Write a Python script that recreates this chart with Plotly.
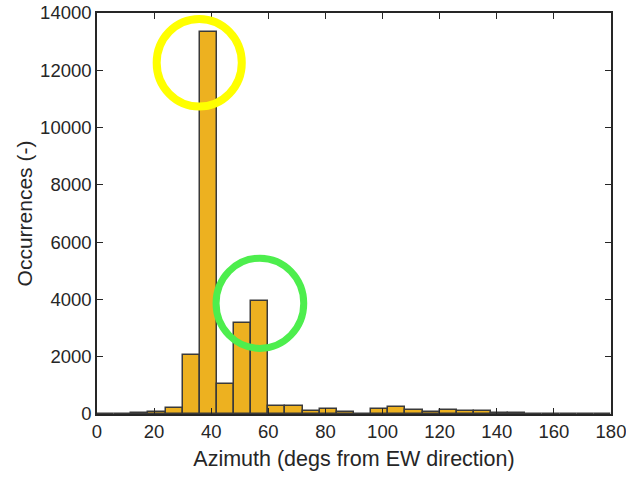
import plotly.graph_objects as go

# Histogram bins (6-degree bins from 0 to 180) - bin centers
bin_centers = [3, 9, 15, 21, 27, 33, 39, 45, 51, 57, 63, 69, 75, 81, 87,
               93, 99, 105, 111, 117, 123, 129, 135, 141, 147, 153, 159, 165, 171, 177]
bin_width = 6
counts = [0, 5, 20, 55, 200, 2050, 13320, 1060, 3160, 3930, 280, 280, 100, 170, 70,
          10, 170, 240, 140, 70, 130, 90, 120, 50, 25, 15, 15, 5, 15, 0]

x_ticks = [0, 20, 40, 60, 80, 100, 120, 140, 160, 180]
x_tick_labels = ["0", "20", "40", "60", "80", "100", "120", "140", "160", "180"]
y_ticks = [0, 2000, 4000, 6000, 8000, 10000, 12000, 14000]
y_tick_labels = ["0", "2000", "4000", "6000", "8000", "10000", "12000", "14000"]

FONT = "Liberation Sans, Arial, sans-serif"
TXT = "#262626"

fig = go.Figure()
fig.add_trace(go.Bar(
    x=bin_centers, y=counts, width=[bin_width] * len(bin_centers),
    marker=dict(color="#EDB120", line=dict(color="#3a3a3a", width=1.5)),
    showlegend=False,
))

# highlight circles
fig.add_shape(type="circle", xref="x", yref="y",
              x0=20.9, x1=50.7, y0=10733, y1=13791,
              line=dict(color="#FFFF00", width=8))
fig.add_shape(type="circle", xref="x", yref="y",
              x0=41.7, x1=72.4, y0=2291, y1=5440,
              line=dict(color="#4DEE4D", width=7))

axis_common = dict(
    showline=True, linecolor="#262626", linewidth=1.5, mirror="ticks",
    ticks="inside", ticklen=6, tickwidth=1.2, tickcolor="#262626",
    showgrid=False, zeroline=False, automargin=False,
    ticklabeloverflow="allow",
    tickfont=dict(family=FONT, size=18.5, color=TXT),
)

fig.update_xaxes(range=[0, 180], tickvals=x_ticks, ticktext=x_tick_labels,
                 title=dict(text="Azimuth (degs from EW direction)",
                            font=dict(family=FONT, size=21.5, color=TXT), standoff=10),
                 **axis_common)
fig.update_yaxes(range=[0, 14000], tickvals=y_ticks, ticktext=y_tick_labels,
                 title=dict(text="Occurrences (-)",
                            font=dict(family=FONT, size=21, color=TXT), standoff=2),
                 **axis_common)

fig.update_layout(
    width=626, height=478,
    margin=dict(l=97, r=15, t=13, b=63.5, pad=0),
    plot_bgcolor="white", paper_bgcolor="white",
    bargap=0,
)

# remove the default page margin so the figure fills the window exactly
fig.write_html("out.html",
               config={"displayModeBar": False},
               post_script="document.body.style.margin='0px';document.body.style.overflow='hidden';")
